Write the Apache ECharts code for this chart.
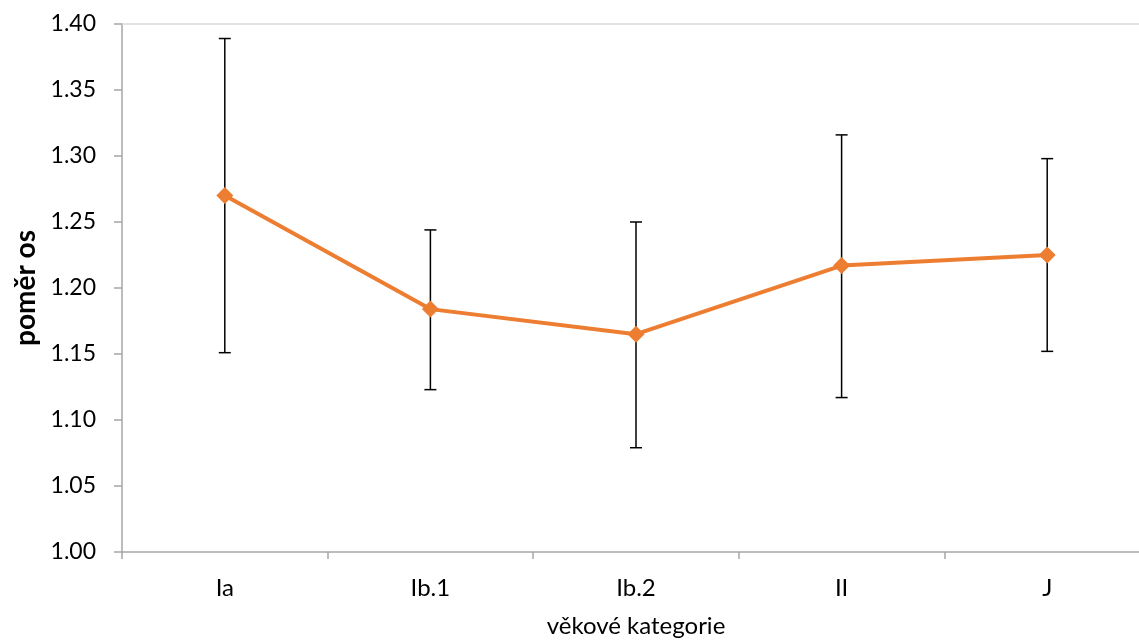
<!DOCTYPE html>
<html>
<head>
<meta charset="utf-8">
<script src="https://cdn.jsdelivr.net/npm/echarts@6/dist/echarts.min.js"></script>
<style>
  html, body { margin: 0; padding: 0; background: #fff; overflow: hidden; }
  #chart { width: 1139px; height: 641px; }
</style>
</head>
<body>
<div id="chart"></div>
<script>
// Age categories and mean axis ratio with error ranges
const categories = ['Ia', 'Ib.1', 'Ib.2', 'II', 'J'];
const meanValues = [1.270, 1.184, 1.165, 1.217, 1.225];
const upperValues = [1.389, 1.244, 1.250, 1.316, 1.298];
const lowerValues = [1.151, 1.123, 1.079, 1.117, 1.152];
const yTicks = { min: 1.00, max: 1.40, interval: 0.05 };

const FONT = 'Lato, "Open Sans", sans-serif';
const chart = echarts.init(document.getElementById('chart'));

const errorData = categories.map((c, i) => [i, lowerValues[i], upperValues[i]]);

chart.setOption({
  animation: false,
  // the last category band runs a little past the right edge of the canvas
  grid: { left: 122, top: 24, width: 1028, height: 528, outerBoundsMode: 'none', containLabel: false },
  xAxis: [{
    type: 'category',
    data: categories,
    boundaryGap: true,
    axisLine: { lineStyle: { color: '#a6a6a6', width: 1.5 } },
    axisTick: { show: true, length: 7, lineStyle: { color: '#a6a6a6', width: 1.5 } },
    axisLabel: { color: '#000', fontFamily: FONT, fontSize: 24, margin: 24 },
    name: 'věkové kategorie',
    nameLocation: 'middle',
    nameGap: 62,
    nameTextStyle: { color: '#000', fontFamily: FONT, fontSize: 24 }
  }, {
    type: 'category',
    position: 'top',
    data: categories,
    axisLine: { lineStyle: { color: '#d9d9d9', width: 1.5 } },
    axisTick: { show: false },
    axisLabel: { show: false }
  }],
  yAxis: {
    type: 'value',
    min: yTicks.min,
    max: yTicks.max,
    interval: yTicks.interval,
    axisLine: { show: true, lineStyle: { color: '#a6a6a6', width: 1.5 } },
    axisTick: { show: true, length: 8, lineStyle: { color: '#a6a6a6', width: 1.5 } },
    splitLine: { show: false },
    axisLabel: {
      color: '#000', fontFamily: FONT, fontSize: 23, margin: 26,
      formatter: v => v.toFixed(2)
    },
    name: 'poměr os',
    nameLocation: 'middle',
    nameGap: 78,
    nameTextStyle: { color: '#000', fontFamily: FONT, fontSize: 28, fontWeight: 'bold' }
  },
  series: [{
    type: 'custom',
    data: errorData,
    z: 1,
    renderItem: function (params, api) {
      const x = api.value(0);
      const lo = api.coord([x, api.value(1)]);
      const hi = api.coord([x, api.value(2)]);
      const half = 6;
      const style = { stroke: '#000', lineWidth: 1.5 };
      return {
        type: 'group',
        children: [
          { type: 'line', shape: { x1: lo[0], y1: lo[1], x2: hi[0], y2: hi[1] }, style },
          { type: 'line', shape: { x1: hi[0] - half, y1: hi[1], x2: hi[0] + half, y2: hi[1] }, style },
          { type: 'line', shape: { x1: lo[0] - half, y1: lo[1], x2: lo[0] + half, y2: lo[1] }, style }
        ]
      };
    }
  }, {
    type: 'line',
    data: meanValues,
    z: 3,
    symbol: 'diamond',
    symbolSize: 17,
    lineStyle: { color: '#ED7D31', width: 4 },
    itemStyle: { color: '#ED7D31' }
  }]
});
</script>
</body>
</html>
